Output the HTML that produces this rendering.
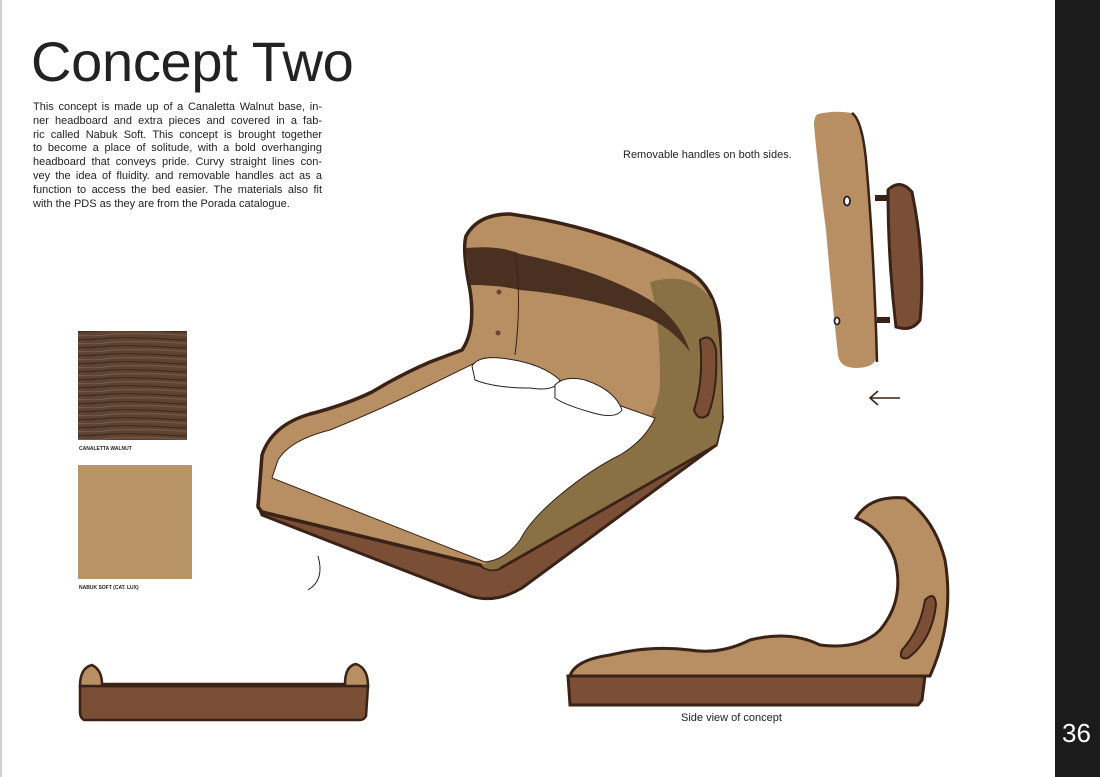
<!DOCTYPE html>
<html><head><meta charset="utf-8"><style>
html,body{margin:0;padding:0;background:#fff;}
body{width:1100px;height:777px;position:relative;overflow:hidden;font-family:"Liberation Sans",Arial,sans-serif;}
.band{position:absolute;left:1055px;top:0;width:45px;height:777px;background:#1b1b1b;}
.num{position:absolute;left:1062px;top:718px;color:#fff;font-size:26px;}
.lb{position:absolute;left:0;top:0;width:2px;height:777px;background:#cfcfcf;}
h1{position:absolute;left:31px;top:32px;margin:0;font-weight:normal;font-size:56px;color:#222;letter-spacing:-0.3px;line-height:60px;}
.p{position:absolute;left:33px;top:101px;width:289px;font-size:11px;line-height:13.8px;color:#222;}
.p div{text-align:justify;text-align-last:justify;white-space:nowrap;height:13.8px;}
.p div.l{text-align-last:left;}
.cap{position:absolute;font-size:11px;color:#222;}
.small{position:absolute;font-size:5px;font-weight:bold;color:#222;}
svg{position:absolute;left:0;top:0;}
</style></head><body>
<div class="lb"></div>
<h1>Concept Two</h1>
<div class="p">
<div style="white-space:normal">This concept is made up of a Canaletta Walnut base, in-</div>
<div style="white-space:normal">ner headboard and extra pieces and covered in a fab-</div>
<div style="white-space:normal">ric called Nabuk Soft. This concept is brought together</div>
<div style="white-space:normal">to become a place of solitude, with a bold overhanging</div>
<div style="white-space:normal">headboard that conveys pride. Curvy straight lines con-</div>
<div style="white-space:normal">vey the idea of fluidity. and removable handles act as a</div>
<div style="white-space:normal">function to access the bed easier. The materials also fit</div>
<div class="l">with the PDS as they are from the Porada catalogue.</div>
</div>
<div class="cap" style="left:623px;top:149px;">Removable handles on both sides.</div>
<div class="cap" style="left:681px;top:712px;">Side view of concept</div>
<div class="small" style="left:79px;top:446px;">CANALETTA WALNUT</div>
<div class="small" style="left:79px;top:585px;">NABUK SOFT (CAT. LUX)</div>
<svg width="1100" height="777" viewBox="0 0 1100 777">
<defs>
<pattern id="wood" width="110" height="8" patternUnits="userSpaceOnUse">
<rect width="110" height="8" fill="#5e4332"/>
<path d="M0 2 Q30 1 55 3 T110 2" stroke="#3e2a1e" stroke-width="1.2" fill="none"/>
<path d="M0 6 Q40 5 70 7 T110 6" stroke="#7a5c47" stroke-width="1" fill="none"/>
</pattern>
</defs>
<rect x="78" y="331" width="109" height="109" fill="url(#wood)"/>
<rect x="78" y="465" width="114" height="114" fill="#b99466"/>
<path d="M258 505 L262 515 L470 596 Q495 604 522 588 L716 445 L722 418 L258 505 Z" fill="#7a4f35" stroke="#3a2216" stroke-width="3"/>
<path d="M258 507 L262 455 Q272 425 310 414 Q345 405 372 392 Q400 375 430 362 L462 350 Q476 330 470 290 Q462 250 466 236 Q478 214 510 214 Q610 228 690 272 Q720 292 720 340 L722 420 L716 445 L500 568 Q490 572 480 565 L262 512 Z" fill="#b88f63" stroke="#3a2216" stroke-width="3.5" stroke-linejoin="round"/>
<path d="M650 282 Q690 270 712 300 Q722 330 722 420 L716 445 L500 568 Q490 572 482 566 L490 560 Q510 545 525 520 Q550 500 575 480 Q620 450 640 430 Q660 410 660 380 Q660 320 650 282 Z" fill="#8a7045"/>
<path d="M716 445 L500 568" stroke="#3a2216" stroke-width="2" fill="none"/>
<path d="M466 248 Q500 245 520 254 Q600 270 650 300 Q680 320 690 352 Q670 325 640 315 Q580 295 520 290 Q500 285 470 285 Z" fill="#4a3020"/>
<path d="M515 252 Q522 300 515 355" stroke="#3a2216" stroke-width="1" fill="none"/>
<circle cx="499" cy="292" r="2.5" fill="#6a4530"/><circle cx="498" cy="333" r="2.5" fill="#6a4530"/>
<path d="M272 478 L278 460 Q290 440 330 430 Q380 410 430 385 L485 358 L655 418 Q645 440 620 455 Q590 470 560 495 Q530 520 520 540 Q505 560 485 562 Z" fill="#fff" stroke="#3a2216" stroke-width="1"/>
<path d="M472 366 Q478 356 500 358 Q540 362 560 380 Q555 392 530 388 Q495 388 475 380 Z" fill="#fff" stroke="#222" stroke-width="1"/>
<path d="M555 385 Q565 375 585 380 Q615 390 622 410 Q615 420 590 412 Q565 405 555 398 Z" fill="#fff" stroke="#222" stroke-width="1"/>
<path d="M700 340 Q712 332 716 350 Q718 390 708 415 Q698 422 694 410 Q704 380 700 340 Z" fill="#7a4f35" stroke="#3a2216" stroke-width="2"/>
<path d="M318 556 Q325 580 308 590" stroke="#222" stroke-width="1" fill="none"/>
<path d="M818 114 Q835 110 852 113 Q862 120 866 160 Q874 250 877 355 Q876 368 856 368 Q840 368 838 355 Q832 300 826 230 Q818 170 814 125 Q814 116 818 114 Z" fill="#b88f63"/>
<path d="M852 113 Q862 120 866 160 Q874 250 877 362" stroke="#3a2216" stroke-width="2.5" fill="none"/>
<path d="M875 198 L888 198 M877 320 L890 320" stroke="#3a2216" stroke-width="6"/>
<path d="M888 190 Q900 178 912 192 Q926 260 920 320 Q912 332 896 327 Q888 260 888 190 Z" fill="#7a4f35" stroke="#3a2216" stroke-width="3"/>
<ellipse cx="847" cy="201" rx="3" ry="4.5" fill="#fff" stroke="#222" stroke-width="1.8"/>
<ellipse cx="837" cy="321" rx="2.5" ry="3.5" fill="#fff" stroke="#222" stroke-width="1.8"/>
<path d="M900 398 L870 398 M878 391 L870 398 L878 405" stroke="#3a2216" stroke-width="1.6" fill="none"/>
<path d="M568 676 L925 676 L922 700 L918 705 L570 705 Z" fill="#7a4f35" stroke="#3a2216" stroke-width="3"/>
<path d="M570 676 Q575 660 610 655 Q650 645 690 650 Q720 655 750 640 Q790 630 820 645 Q860 650 880 630 Q905 600 895 560 Q885 530 856 518 Q870 495 905 498 Q935 520 945 560 Q955 620 930 676 Z" fill="#b88f63" stroke="#3a2216" stroke-width="3"/>
<path d="M925 600 Q935 590 936 605 Q932 640 908 658 Q898 660 902 650 Q920 630 925 600 Z" fill="#7a4f35" stroke="#3a2216" stroke-width="2"/>
<path d="M80 686 L368 686 L366 716 Q364 720 360 720 L84 720 Q80 718 80 712 Z" fill="#7a4f35" stroke="#3a2216" stroke-width="2.5"/>
<path d="M80 686 Q80 668 92 665 Q102 670 102 684 L345 684 Q345 666 356 664 Q368 668 368 686 Z" fill="#b88f63" stroke="#3a2216" stroke-width="2.5"/>
</svg>
<div class="band"></div>
<div class="num">36</div>
</body></html>
